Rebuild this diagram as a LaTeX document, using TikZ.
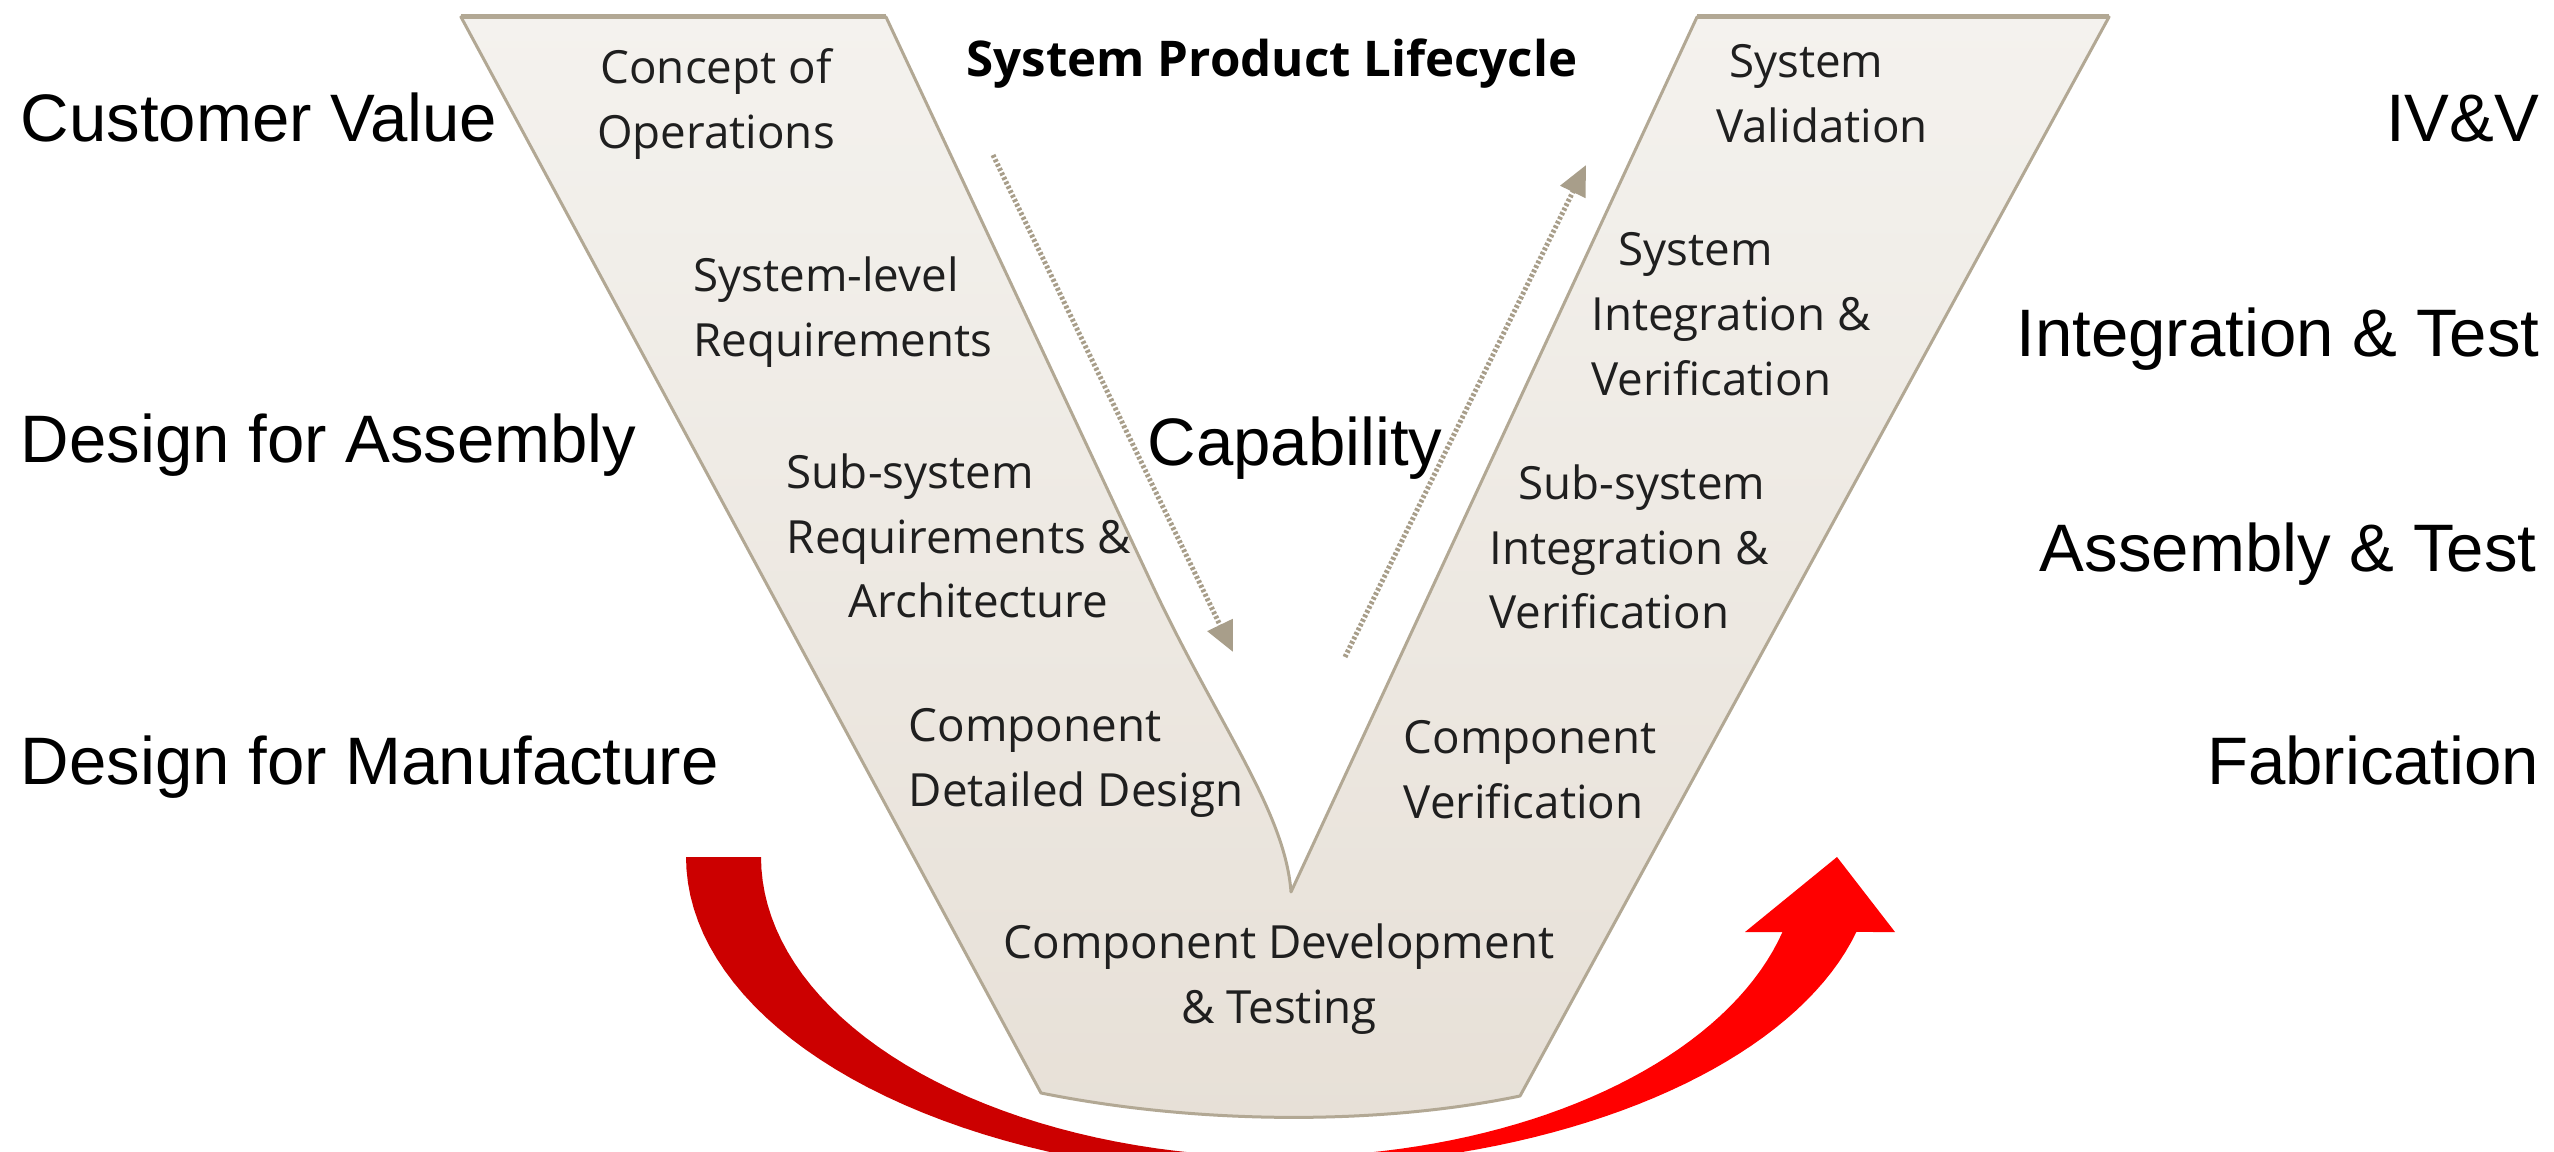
\documentclass[tikz,border=0pt]{standalone}
\usepackage{fontspec}
\setmainfont{Liberation Sans}
\newfontfamily\stagefont{Open Sans}
\usetikzlibrary{arrows.meta,positioning}
\definecolor{vline}{RGB}{178,168,148}
\definecolor{vtop}{RGB}{244,242,238}
\definecolor{vbot}{RGB}{231,224,215}
\definecolor{sweepdark}{RGB}{204,0,0}
\definecolor{sweeplight}{RGB}{255,0,0}
\definecolor{hatchc}{RGB}{168,158,138}

\begin{document}
\begin{tikzpicture}[x=0.01cm,y=-0.01cm,
    side/.style={font=\fontsize{19.1}{22}\selectfont, inner sep=0pt},
    stage/.style={font=\stagefont\fontsize{13}{18.4}\selectfont, text=black!88, inner sep=0pt},
    title/.style={font=\stagefont\bfseries\fontsize{14}{17}\selectfont, inner sep=0pt},
    hatch/.style={draw=hatchc, line width=0.05cm, dash pattern=on 0.8pt off 0.6pt,
        -{Triangle[length=0.3cm,width=0.27cm]}}]

    \useasboundingbox (0,0) rectangle (2554,1152);

    % red sweep under the V
    \begin{scope}
        \clip (0,0) rectangle (2554,1152);
        \fill[sweepdark] (686,857) -- (761,857)
            -- plot[domain=180:270,samples=40] ({1280+519*cos(\x)},{857-300*sin(\x)})
            -- plot[domain=270:180,samples=40] ({1280+594*cos(\x)},{857-320*sin(\x)}) -- cycle;
        \fill[sweeplight] plot[domain=270:345.5,samples=40] ({1280+519*cos(\x)},{857-300*sin(\x)})
            -- (1745,932) -- (1837,857) -- (1895,932)
            -- plot[domain=346:270,samples=40] ({1280+594*cos(\x)},{857-310*sin(\x)}) -- cycle;
    \end{scope}

    % the V
    \draw[vline, line width=0.03cm, line join=round, top color=vtop, bottom color=vbot]
        (461,17) -- (886,17) -- (1150,580) .. controls (1215,720) and (1285,810) .. (1291,892)
        -- (1697,17) -- (2109,17) -- (1520,1096)
        .. controls (1380,1125) and (1200,1125) .. (1041,1093) -- cycle;
    \draw[vline, line width=0.05cm] (461,17) -- (886,17) (1697,17) -- (2109,17);

    \coordinate (d1) at (993,155);
    \coordinate (d2) at (1233,652);
    \coordinate (u1) at (1345,657);
    \coordinate (u2) at (1586,165);
    \draw[hatch] (d1) -- (d2);
    \draw[hatch] (u1) -- (u2);

    \node[title] (t) at (1272,64) {System Product Lifecycle};

    \node[stage, align=center] (c1) at (716,104) {Concept of\\Operations};
    \node[stage, align=left]   (c2) at (843,312) {System-level\\Requirements};
    \node[stage, align=left]   (c3) at (959,536) {Sub-system\\Requirements \&\\\hspace*{0.62cm}Architecture};
    \node[stage, align=left]   (c4) at (1076,763) {Component\\Detailed Design};
    \node[stage, align=center] (c5) at (1279,979) {Component Development\\\& Testing};
    \node[stage, align=left]   (c6) at (1530,770) {Component\\Verification};
    \node[stage, align=left]   (c7) at (1629,547) {\hspace*{0.29cm}Sub-system\\Integration \&\\Verification};
    \node[stage, align=left]   (c8) at (1731,314) {\hspace*{0.27cm}System\\Integration \&\\Verification};
    \node[stage, align=left]   (c9) at (1822,94) {\hspace*{0.13cm}System\\Validation};

    \node[side, anchor=base] (cap) at (1295,466) {Capability};

    \node[side, anchor=base west] (l1) at (20,142) {Customer Value};
    \node[side, anchor=base west] (l2) at (20,463) {Design for Assembly};
    \node[side, anchor=base west] (l3) at (20,784) {Design for Manufacture};

    \node[side, anchor=base east] (r1) at (2540,142) {IV\&V};
    \node[side, anchor=base east] (r2) at (2540,357) {Integration \& Test};
    \node[side, anchor=base east] (r3) at (2537,572) {Assembly \& Test};
    \node[side, anchor=base east] (r4) at (2540,784) {Fabrication};
\end{tikzpicture}
\end{document}
